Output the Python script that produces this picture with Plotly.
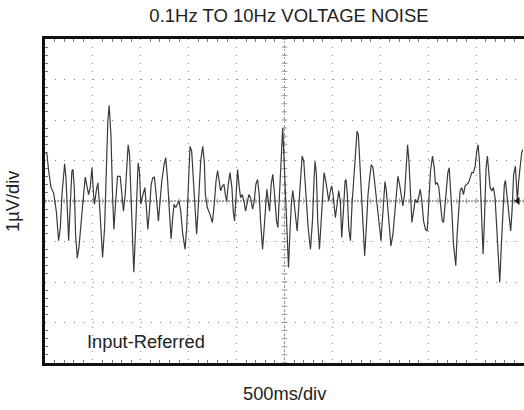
import plotly.graph_objects as go

# Time (s) and input-referred noise (uV)
time_s = [
    0.003, 0.021, 0.038, 0.063, 0.090, 0.118, 0.142, 0.160, 0.177, 0.194, 0.205, 0.219, 0.229, 0.247,
    0.264, 0.281, 0.292, 0.306, 0.319, 0.337, 0.354, 0.375, 0.403, 0.420, 0.438, 0.455, 0.472, 0.490,
    0.507, 0.517, 0.535, 0.552, 0.569, 0.587, 0.601, 0.622, 0.639, 0.656, 0.670, 0.688, 0.705, 0.719,
    0.736, 0.757, 0.785, 0.802, 0.819,
    0.837, 0.854, 0.868, 0.882, 0.896, 0.913, 0.927, 0.941, 0.958, 0.972, 0.986, 1.000, 1.014, 1.028,
    1.042, 1.056, 1.073, 1.090, 1.108, 1.125, 1.142, 1.160, 1.184, 1.201, 1.219, 1.243, 1.260, 1.278,
    1.295, 1.316, 1.333, 1.347, 1.365, 1.382, 1.399, 1.417, 1.438, 1.462, 1.479, 1.497, 1.514, 1.531,
    1.549, 1.566, 1.583, 1.601, 1.625, 1.646,
    1.663, 1.674, 1.694, 1.722, 1.747, 1.767, 1.785, 1.802, 1.819, 1.833, 1.851, 1.868, 1.882, 1.896,
    1.913, 1.931, 1.951, 1.965, 1.979, 1.993, 2.010, 2.028, 2.042, 2.059, 2.076, 2.094, 2.111, 2.128,
    2.146, 2.167, 2.184, 2.201, 2.219, 2.236, 2.250, 2.271, 2.288, 2.306, 2.316, 2.330, 2.344, 2.361,
    2.378, 2.396, 2.417, 2.431, 2.448, 2.462, 2.476, 2.481,
    2.486, 2.503, 2.521, 2.531, 2.542, 2.556, 2.573, 2.587, 2.601, 2.618, 2.632, 2.646, 2.667, 2.684,
    2.701, 2.722, 2.747, 2.771, 2.792, 2.809, 2.819, 2.833, 2.847, 2.865, 2.882, 2.899, 2.913, 2.931,
    2.948, 2.962, 2.979, 2.993, 3.007, 3.017, 3.031, 3.049, 3.066, 3.083, 3.097, 3.115, 3.132, 3.142,
    3.156, 3.170, 3.188, 3.205, 3.222, 3.240, 3.257, 3.271, 3.285, 3.302, 3.319,
    3.337, 3.354, 3.372, 3.389, 3.406, 3.424, 3.441, 3.458, 3.476, 3.493, 3.507, 3.521, 3.535, 3.549,
    3.563, 3.580, 3.597, 3.611, 3.632, 3.653, 3.667, 3.684, 3.701, 3.719, 3.736, 3.753, 3.771, 3.785,
    3.799, 3.813, 3.830, 3.847, 3.865, 3.882, 3.899, 3.917, 3.934, 3.951, 3.972, 3.990, 4.007, 4.024,
    4.045, 4.063, 4.076, 4.094, 4.111, 4.128, 4.146,
    4.160, 4.170, 4.188, 4.205, 4.219, 4.229, 4.247, 4.264, 4.278, 4.288, 4.302, 4.319, 4.333, 4.351,
    4.368, 4.385, 4.403, 4.420, 4.438, 4.455, 4.472, 4.490, 4.507, 4.521, 4.535, 4.549, 4.563, 4.573,
    4.587, 4.604, 4.618, 4.632, 4.646, 4.663, 4.681, 4.698, 4.715, 4.733, 4.747, 4.764, 4.781, 4.795,
    4.806, 4.823, 4.840, 4.861, 4.875, 4.892, 4.910, 4.924, 4.931, 4.944, 4.962, 4.976, 4.986,
]

noise_uv = [
    1.19, 1.15, 0.74, 0.33, 0.20, -0.25, -0.98, -0.66, 0.16, 0.70, 0.92, 0.57, -0.16, -0.98,
    -0.08, 0.74, 0.78, 0.33, -0.82, -1.41, -1.15, -0.49, 0.16, 0.59, 0.41, 0.16, 0.33, 0.82,
    0.16, -0.08, 0.25, 0.45, -0.08, -0.98, -1.39, -0.66, 0.98, 1.97, 2.36, 1.64, 0.16, -0.70,
    -0.08, 0.61, 0.61, 0.25, -0.25,
    0.16, 0.98, 1.39, 1.15, 0.16, -1.07, -1.76, -0.98, 0.33, 0.94, 0.74, -0.08, 0.08, 0.25,
    0.33, -0.08, -0.70, -0.25, 0.41, 0.57, 0.59, 0.16, -0.49, 0.00, 0.49, 0.90, 1.07, 0.57,
    -0.25, -0.94, -0.41, -0.08, -0.16, -0.08, 0.00, -0.25, -0.82, -1.19, -0.66, 0.41, 1.35, 1.23,
    0.57, -0.25, -0.82, -0.08, 0.98, 1.35,
    0.98, 0.16, -0.16, -0.33, -0.53, -0.08, 0.49, 0.75, 0.45, 0.25, 0.37, 0.41, 0.16, 0.00,
    0.41, 0.70, 0.33, -0.25, -0.49, 0.16, 0.78, 0.33, 0.08, 0.16, 0.00, -0.25, 0.00, 0.16,
    0.08, -0.20, 0.00, 0.41, 0.53, 0.16, -0.49, -1.19, -0.66, 0.16, 0.29, 0.00, -0.25, 0.41,
    0.66, 0.16, -0.49, -0.66, 0.16, 0.98, 1.72, 1.80,
    1.56, 0.57, -0.66, -1.39, -1.64, -0.82, 0.00, 0.26, -0.08, -0.57, -0.74, -0.25, 0.57, 1.11,
    0.98, 0.16, -0.66, -1.19, -0.49, 0.57, 0.98, 0.66, -0.49, -1.19, -0.49, 0.33, 0.70, 0.49,
    0.16, 0.00, 0.25, 0.37, 0.16, -0.08, -0.41, -0.08, 0.25, 0.00, -0.90, -0.25, 0.49, 0.53,
    0.16, -0.66, -0.98, -0.08, 0.49, 1.15, 1.72, 1.64, 0.98, 0.16, -0.82,
    -1.35, -0.66, 0.16, 0.57, 0.90, 0.82, 0.49, 0.16, -0.25, -0.66, -0.98, -0.49, 0.25, 0.48,
    0.25, -0.25, -0.82, -1.11, -0.82, -0.25, 0.33, 0.61, 0.41, 0.08, -0.12, 0.16, 0.98, 1.39,
    0.98, 0.16, -0.53, -0.25, 0.04, -0.04, 0.08, 0.29, 0.00, -0.49, -0.70, -0.74, -0.08, 0.74,
    1.11, 0.82, 0.41, 0.45, 0.33, -0.08, -0.49,
    -0.53, -0.25, 0.33, 0.70, 0.82, 0.49, -0.25, -1.07, -1.48, -1.60, -0.82, -0.08, 0.25, 0.33,
    0.16, 0.37, 0.41, 0.45, 0.57, 0.70, 0.70, 0.86, 1.23, 1.39, 0.98, -0.08, -0.98, -1.31,
    -0.49, 0.82, 1.11, 0.74, 0.33, 0.25, 0.33, 0.08, -0.66, -1.64, -2.01, -1.07, -0.08, 0.41,
    0.51, 0.16, -0.25, -0.74, -0.25, 0.66, 0.86, 0.16, 0.00, 0.49, 0.98, 1.19, 1.27,
]

ground_marker_t = [4.935]
ground_marker_v = [0.0]

x_range = [0, 5]        # 10 div x 500 ms
y_range = [-4, 4]       # 8 div x 1 uV
x_div = 0.5
y_div = 1.0

title_text = "0.1Hz TO 10Hz VOLTAGE NOISE"
x_label = "500ms/div"
y_label = "1\u00b5V/div"
note_text = "Input-Referred"

FONT = "Liberation Sans, Arial, sans-serif"
TXT = "#222222"
FS = 18.3

fig = go.Figure()
fig.add_trace(go.Scatter(
    x=time_s, y=noise_uv, mode="lines",
    line=dict(color="#3a3a3a", width=1.2),
    hoverinfo="skip", showlegend=False,
))
fig.add_trace(go.Scatter(
    x=ground_marker_t, y=ground_marker_v, mode="markers",
    marker=dict(symbol="triangle-left", size=7, color="#111111"),
    hoverinfo="skip", showlegend=False,
))

shapes = []
# centre cross
shapes.append(dict(type="line", xref="x", yref="y", x0=x_range[0], x1=x_range[1], y0=0, y1=0,
                   line=dict(color="#a8a8a8", width=2, dash="2px,1px"), layer="below"))
shapes.append(dict(type="line", xref="x", yref="y", x0=2.5, x1=2.5, y0=y_range[0], y1=y_range[1],
                   line=dict(color="#9a9a9a", width=1, dash="2px,2px"), layer="below"))
# small ticks on centre lines
for i in range(int((y_range[1] - y_range[0]) / 0.2) + 1):
    yv = y_range[0] + i * 0.2
    shapes.append(dict(type="line", xref="x", yref="y", x0=2.5 - 0.03, x1=2.5 + 0.03, y0=yv, y1=yv,
                       line=dict(color="#9a9a9a", width=1), layer="below"))
for i in range(int((x_range[1] - x_range[0]) / 0.1) + 1):
    xv = x_range[0] + i * 0.1
    shapes.append(dict(type="line", xref="x", yref="y", x0=xv, x1=xv, y0=-0.07, y1=0.07,
                       line=dict(color="#a8a8a8", width=1), layer="below"))

fig.update_layout(
    width=524, height=410,
    margin=dict(l=45, r=0, t=39, b=47),
    paper_bgcolor="white", plot_bgcolor="white",
    shapes=shapes,
    title=dict(text=title_text, x=289 / 524, xanchor="center", xref="container",
               y=1 - 16 / 410, yref="container", yanchor="middle",
               font=dict(family=FONT, size=18.5, color=TXT)),
    font=dict(family=FONT, color=TXT),
    annotations=[
        dict(text=x_label, xref="paper", yref="paper", x=0.5, y=-30 / 324, xanchor="center",
             yanchor="middle", showarrow=False, font=dict(family=FONT, size=FS, color=TXT)),
        dict(text=y_label, xref="paper", yref="paper", x=-33 / 479, y=0.5, xanchor="center",
             yanchor="middle", textangle=-90, showarrow=False,
             font=dict(family=FONT, size=FS, color=TXT)),
        dict(text=note_text, xref="paper", yref="paper", x=40 / 479, y=22 / 324, xanchor="left",
             yanchor="middle", showarrow=False, font=dict(family=FONT, size=FS, color=TXT)),
    ],
)
fig.update_xaxes(
    range=x_range, dtick=x_div, tick0=0, showticklabels=False, ticks="",
    showgrid=True, gridcolor="#8a8a8a", gridwidth=1, griddash="1px,7px",
    zeroline=False, showline=True, linecolor="#111111", linewidth=3, mirror="allticks",
    minor=dict(dtick=0.1, ticks="inside", ticklen=3, tickcolor="#777777", showgrid=False),
    fixedrange=True,
)
fig.update_yaxes(
    range=y_range, dtick=y_div, tick0=0, showticklabels=False, ticks="",
    showgrid=True, gridcolor="#8a8a8a", gridwidth=1, griddash="1px,8.6px",
    zeroline=False, showline=True, linecolor="#111111", linewidth=3, mirror=False,
    minor=dict(dtick=0.2, ticks="inside", ticklen=3, tickcolor="#777777", showgrid=False),
    fixedrange=True,
)

fig.write_html("out.html", config={"displayModeBar": False, "staticPlot": True},
               post_script="document.body.style.margin='0';")
